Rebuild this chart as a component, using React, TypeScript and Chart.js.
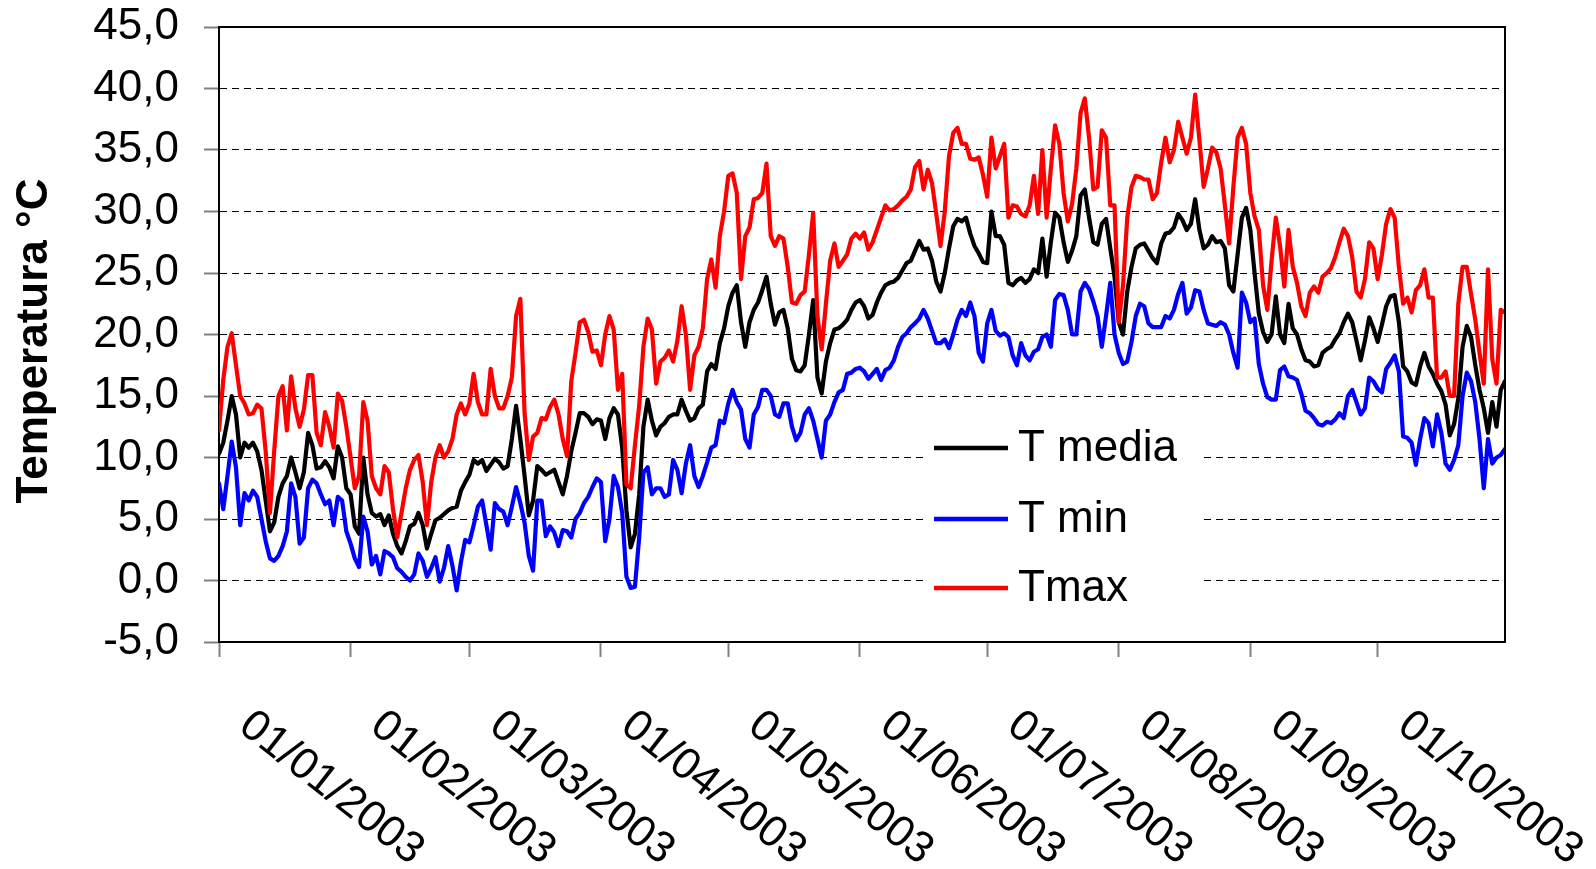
import React, { useEffect, useRef } from 'react';
import { Chart, registerables } from 'chart.js';

Chart.register(...registerables);

// ---- Data (daily values, 01/01/2003 .. 31/10/2003) ----
const monthStarts = [0, 31, 59, 90, 120, 151, 181, 212, 243, 273];
const monthLabels = [
  '01/01/2003', '01/02/2003', '01/03/2003', '01/04/2003', '01/05/2003',
  '01/06/2003', '01/07/2003', '01/08/2003', '01/09/2003', '01/10/2003',
];
const yTicks = [-5, 0, 5, 10, 15, 20, 25, 30, 35, 40, 45];
const seriesNames = ['T media', 'T min', 'Tmax'];
const yTitle = 'Temperatura °C';

const tMedia = [
  // Jan
  10.3, 11.2, 13.0, 15.0, 13.5, 10.0, 11.2, 10.8, 11.2, 10.5, 9.0, 6.5, 4.0, 4.7, 6.8, 7.9, 8.5, 10.0, 8.8, 7.5, 8.8, 12.0, 11.0, 9.1, 9.2, 9.7, 9.2, 8.3, 10.9, 10.0, 7.5,
  // Feb
  7.0, 4.4, 3.8, 10.0, 7.0, 5.5, 5.2, 5.4, 4.5, 5.3, 3.8, 2.8, 2.2, 3.2, 4.4, 4.6, 5.5, 4.5, 2.6, 3.8, 4.9, 5.1, 5.4, 5.7, 5.9, 6.0, 7.3, 8.0,
  // Mar
  8.6, 9.8, 9.5, 9.8, 8.9, 9.4, 9.9, 9.6, 9.1, 9.3, 11.5, 14.2, 11.5, 8.5, 5.3, 6.5, 9.3, 9.0, 8.6, 8.8, 9.0, 8.0, 7.0, 8.5, 10.5, 12.0, 13.6, 13.6, 13.3, 12.7, 13.1,
  // Apr
  13.0, 11.5, 13.2, 14.0, 13.5, 10.8, 5.7, 2.7, 3.8, 7.0, 12.5, 14.7, 13.0, 11.8, 12.5, 12.8, 13.3, 13.5, 13.5, 14.7, 13.8, 13.0, 13.2, 14.0, 14.3, 17.0, 17.6, 17.2, 19.3, 20.5,
  // May
  22.3, 23.4, 24.0, 21.0, 19.0, 21.0, 22.0, 22.6, 23.6, 24.7, 22.5, 20.8, 21.8, 22.0, 20.5, 18.0, 17.1, 17.0, 17.5, 20.0, 22.8, 16.5, 15.2, 17.8, 19.3, 20.4, 20.5, 20.8, 21.2, 22.0, 22.6,
  // Jun
  22.8, 22.3, 21.3, 21.6, 22.6, 23.4, 24.0, 24.2, 24.3, 24.6, 25.2, 25.8, 26.0, 26.8, 27.6, 26.9, 27.0, 26.0, 24.3, 23.5, 25.0, 27.0, 28.8, 29.4, 29.2, 29.5, 28.2, 27.2, 26.6, 25.9,
  // Jul
  25.8, 30.0, 28.0, 28.0, 27.3, 24.2, 24.0, 24.4, 24.6, 24.2, 24.5, 25.3, 25.0, 27.8, 24.7, 27.5, 29.9, 29.5, 27.5, 25.9, 26.8, 28.0, 31.3, 31.8, 29.5, 27.5, 27.3, 29.0, 29.4, 27.0, 24.7,
  // Aug
  21.0, 20.0, 23.5, 25.5, 27.0, 27.3, 27.4, 26.8, 26.2, 25.8, 27.4, 28.2, 28.3, 28.7, 29.8, 29.3, 28.5, 29.0, 31.0, 28.5, 27.0, 27.3, 28.0, 27.5, 27.6, 27.0, 24.0, 23.5, 26.5, 29.5, 30.3,
  // Sep
  28.5, 25.0, 21.7, 20.2, 19.4, 20.0, 23.1, 20.0, 19.3, 22.5, 20.5, 20.0, 18.8, 17.9, 17.8, 17.4, 17.5, 18.5, 18.8, 19.0, 19.6, 20.1, 21.0, 21.7, 21.0, 19.5, 17.9, 19.5, 21.4, 20.5,
  // Oct
  19.4, 20.8, 22.3, 23.1, 23.2, 21.0, 17.4, 17.0, 16.1, 15.9, 17.4, 18.5, 17.4, 16.8, 16.0, 15.4, 14.3, 11.8, 12.7, 14.8, 19.0, 20.7, 19.8, 17.5, 15.5, 14.0, 12.0, 14.5, 12.5, 15.5, 16.2,
];

const tMin = [
  // Jan
  7.9, 5.8, 8.5, 11.3, 9.2, 4.5, 7.1, 6.5, 7.3, 6.8, 5.0, 3.2, 1.8, 1.6, 2.0, 2.8, 4.0, 7.9, 6.8, 3.0, 3.5, 7.5, 8.2, 7.9, 7.0, 6.2, 6.5, 4.5, 6.8, 6.5, 4.0,
  // Feb
  3.0, 1.8, 1.1, 5.2, 4.0, 1.3, 2.0, 0.5, 2.4, 2.2, 1.9, 1.0, 0.7, 0.3, 0.0, 0.5, 2.2, 1.6, 0.3, 1.0, 1.9, -0.1, 1.0, 2.8, 1.2, -0.8, 1.5, 3.3,
  // Mar
  3.1, 4.5, 6.0, 6.5, 4.5, 2.5, 6.3, 5.8, 5.6, 4.5, 6.0, 7.6, 6.3, 4.7, 2.0, 0.8, 6.5, 6.5, 3.6, 4.4, 3.9, 2.8, 4.1, 4.0, 3.5, 5.0, 5.5, 6.3, 6.8, 7.6, 8.3,
  // Apr
  8.0, 3.2, 5.0, 8.5, 7.6, 5.5, 0.3, -0.6, -0.5, 3.5, 8.8, 9.2, 7.0, 7.5, 7.5, 6.8, 7.0, 9.8, 9.0, 7.1, 9.5, 11.0, 8.5, 7.6, 8.5, 9.6, 10.8, 11.0, 13.0, 12.8,
  // May
  14.4, 15.5, 14.5, 13.9, 11.5, 10.8, 13.5, 14.1, 15.5, 15.5, 15.0, 13.5, 13.3, 14.4, 14.4, 12.5, 11.4, 12.0, 13.5, 14.0, 13.0, 11.5, 10.0, 13.0, 13.5, 14.5, 15.3, 15.5, 16.8, 16.9, 17.2,
  // Jun
  17.3, 17.0, 16.4, 16.8, 17.2, 16.3, 17.1, 17.3, 17.9, 19.0, 19.8, 20.1, 20.6, 20.9, 21.3, 22.0, 21.3, 20.3, 19.3, 19.3, 19.6, 18.9, 20.0, 21.2, 22.0, 21.5, 22.6, 21.5, 18.5, 17.8,
  // Jul
  20.9, 22.0, 20.3, 19.9, 20.1, 19.8, 18.3, 17.5, 19.3, 18.3, 17.9, 18.6, 18.8, 19.8, 20.0, 19.0, 22.8, 23.3, 23.2, 22.0, 20.0, 20.0, 23.5, 24.2, 23.7, 22.7, 21.5, 19.0, 21.5, 24.2, 20.0,
  // Aug
  18.5, 17.6, 17.8, 19.4, 21.5, 22.5, 22.3, 20.9, 20.6, 20.6, 20.6, 21.5, 21.3, 22.0, 23.3, 24.2, 21.7, 22.2, 23.6, 23.5, 22.0, 20.9, 20.8, 20.7, 21.0, 20.8, 20.0, 18.5, 17.3, 23.4, 22.6,
  // Sep
  21.0, 21.3, 17.6, 16.0, 14.9, 14.7, 14.7, 17.1, 17.4, 16.6, 16.5, 16.3, 15.2, 13.8, 13.6, 13.2, 12.7, 12.6, 12.9, 12.8, 13.1, 13.6, 13.2, 15.0, 15.5, 14.5, 13.5, 14.0, 16.5, 16.2,
  // Oct
  15.6, 15.3, 17.2, 17.7, 18.3, 17.0, 11.7, 11.6, 11.2, 9.4, 11.5, 13.2, 12.8, 10.9, 13.5, 12.0, 9.5, 9.0, 9.8, 11.0, 15.0, 16.9, 16.2, 14.5, 11.5, 7.5, 11.5, 9.5, 10.0, 10.2, 10.7,
];

const tMax = [
  // Jan
  12.2, 16.3, 19.0, 20.1, 17.5, 15.0, 14.4, 13.5, 13.6, 14.3, 14.0, 10.5, 5.5, 10.5, 15.0, 15.8, 12.2, 16.6, 14.0, 12.5, 13.9, 16.7, 16.7, 12.0, 11.0, 13.7, 12.5, 10.8, 15.2, 14.6, 12.5,
  // Feb
  10.0, 7.5, 8.5, 14.5, 13.0, 8.5, 7.5, 7.0, 9.3, 8.8, 5.8, 3.5, 5.5, 7.5, 9.0, 9.8, 10.2, 8.0, 4.5, 8.0, 10.0, 11.0, 10.0, 10.5, 11.5, 13.5, 14.4, 13.5,
  // Mar
  14.4, 16.8, 14.5, 13.5, 13.5, 17.2, 15.0, 14.0, 14.0, 15.0, 16.5, 21.5, 22.9, 13.6, 9.8, 11.7, 12.0, 13.2, 13.1, 14.1, 14.7, 13.5, 11.5, 10.1, 16.2, 18.5, 21.0, 21.2, 20.2, 18.6, 18.7,
  // Apr
  17.5, 20.0, 21.5, 20.4, 15.5, 16.8, 7.8, 7.5, 11.0, 14.2, 19.0, 21.3, 20.4, 16.0, 17.8, 18.1, 18.7, 17.8, 19.5, 22.3, 20.0, 15.5, 18.3, 19.0, 20.5, 24.5, 26.1, 23.8, 28.0, 30.0,
  // May
  32.9, 33.1, 31.5, 24.5, 28.0, 28.7, 31.0, 31.1, 31.5, 33.9, 28.0, 27.2, 28.0, 27.8, 25.5, 22.6, 22.5, 23.2, 23.5, 26.5, 29.9, 21.5, 18.8, 22.5, 26.0, 27.4, 25.5, 26.0, 26.5, 27.8, 28.2,
  // Jun
  27.8, 28.3, 26.9, 27.5, 28.5, 29.5, 30.5, 30.1, 30.2, 30.5, 30.9, 31.2, 31.8, 33.6, 34.1, 31.8, 33.4, 32.3, 29.8, 27.2, 30.0, 34.5, 36.4, 36.8, 35.5, 35.5, 34.3, 34.2, 34.4, 33.0,
  // Jul
  31.2, 36.0, 33.5, 34.5, 35.5, 29.5, 30.5, 30.4, 29.8, 29.6, 30.5, 32.9, 29.8, 35.0, 29.5, 33.5, 37.0, 35.5, 31.5, 29.2, 30.6, 33.5, 38.0, 39.2, 36.0, 31.8, 32.0, 36.6, 36.0, 30.5, 30.5,
  // Aug
  21.0, 24.0, 29.5, 32.0, 32.9, 32.8, 32.6, 32.6, 31.0, 31.5, 34.0, 36.0, 34.0, 35.0, 37.3, 36.0, 34.7, 36.0, 39.5, 35.8, 32.0, 33.5, 35.2, 34.8, 33.5, 30.5, 27.4, 32.0, 36.0, 36.8, 35.5,
  // Sep
  31.5, 29.6, 28.5, 24.0, 22.0, 26.0, 29.5, 27.2, 23.9, 28.5, 25.5, 24.2, 22.3, 21.5, 23.4, 23.9, 23.4, 24.7, 25.0, 25.4, 26.3, 27.5, 28.6, 28.0, 26.3, 23.5, 23.0, 24.5, 27.5, 27.0,
  // Oct
  24.5, 26.5, 29.0, 30.2, 29.5, 25.5, 22.5, 23.0, 21.8, 23.6, 24.0, 25.3, 23.0, 23.0, 16.5, 16.5, 17.0, 15.0, 15.0, 22.5, 25.5, 25.5, 23.3, 21.2, 18.5, 16.0, 25.3, 18.0, 16.0, 22.0, 21.8,
];

const seriesColors = ['#000000', '#0000FF', '#FF0000'];
const FONT = '"Liberation Sans", Arial, Helvetica, sans-serif';

const toXY = (arr: number[]) => arr.map((v, i) => ({ x: i, y: v }));

const decorPlugin = {
  id: 'decor',
  afterDatasetsDraw(chart: any) {
    const { ctx, chartArea: ca } = chart;
    ctx.save();
    // top & right frame
    ctx.strokeStyle = '#000';
    ctx.lineWidth = 2;
    ctx.setLineDash([]);
    ctx.beginPath();
    ctx.moveTo(ca.left, ca.top);
    ctx.lineTo(ca.right, ca.top);
    ctx.lineTo(ca.right, ca.bottom);
    ctx.stroke();

    // legend (inside the plot, white box)
    const bx = 925, by = 415, bw = 275, bh = 200;
    ctx.fillStyle = '#fff';
    ctx.fillRect(bx, by, bw, bh);
    const rows = [448, 519, 588];
    ctx.font = `44px ${FONT}`;
    ctx.textBaseline = 'middle';
    ctx.textAlign = 'left';
    seriesNames.forEach((name, i) => {
      const y = rows[i];
      ctx.strokeStyle = seriesColors[i];
      ctx.lineWidth = 4.5;
      ctx.beginPath();
      ctx.moveTo(934, y);
      ctx.lineTo(1008, y);
      ctx.stroke();
      ctx.fillStyle = '#000';
      ctx.fillText(name, 1018, y + 1);
    });
    ctx.restore();
  },
  afterDraw(chart: any) {
    const { ctx } = chart;
    const xs = chart.scales.x;
    ctx.save();
    // x tick labels (rotated)
    ctx.font = `44px ${FONT}`;
    ctx.fillStyle = '#000';
    ctx.textAlign = 'left';
    ctx.textBaseline = 'alphabetic';
    const ang = (38 * Math.PI) / 180;
    monthStarts.forEach((d, i) => {
      const px = xs.getPixelForValue(d);
      ctx.save();
      ctx.translate(px + 18, 730);
      ctx.rotate(ang);
      ctx.fillText(monthLabels[i], 0, 0);
      ctx.restore();
    });
    // y axis title
    ctx.save();
    ctx.font = `bold 44px ${FONT}`;
    ctx.textAlign = 'center';
    ctx.textBaseline = 'middle';
    ctx.translate(35, 341);
    ctx.rotate(-Math.PI / 2);
    ctx.fillText(yTitle, 0, 0);
    ctx.restore();
    ctx.restore();
  },
};

export default function App() {
  const ref = useRef<HTMLCanvasElement | null>(null);

  useEffect(() => {
    if (!ref.current) return;
    const series = [tMedia, tMin, tMax];
    const chart = new Chart(ref.current, {
      type: 'line',
      data: {
        datasets: series.map((arr, i) => ({
          label: seriesNames[i],
          data: toXY(arr),
          borderColor: seriesColors[i],
          backgroundColor: seriesColors[i],
          borderWidth: 4.2,
          pointRadius: 0,
          tension: 0,
          fill: false,
          borderJoinStyle: 'round' as const,
          borderCapStyle: 'round' as const,
          order: 2 - i,
        })),
      },
      options: {
        animation: false,
        responsive: false,
        devicePixelRatio: 1,
        layout: { padding: { top: 27, right: 91, left: 0, bottom: 0 } },
        plugins: {
          legend: { display: false },
          tooltip: { enabled: false },
          title: { display: false },
        },
        scales: {
          x: {
            type: 'linear',
            min: 0,
            max: tMax.length - 1,
            afterBuildTicks: (s: any) => {
              s.ticks = monthStarts.map((v) => ({ value: v }));
            },
            afterFit: (s: any) => {
              s.height = 227;
              s.paddingLeft = 0;
              s.paddingRight = 0;
            },
            ticks: { display: false },
            grid: {
              display: true,
              drawOnChartArea: false,
              drawTicks: true,
              tickLength: 15,
              tickColor: '#808080',
              tickWidth: 2,
            },
            border: { display: true, color: '#000', width: 2 },
          },
          y: {
            type: 'linear',
            min: -5,
            max: 45,
            afterBuildTicks: (s: any) => {
              s.ticks = yTicks.map((v) => ({ value: v }));
            },
            afterFit: (s: any) => {
              s.width = 219;
              s.paddingTop = 0;
              s.paddingBottom = 0;
            },
            ticks: {
              padding: 25,
              color: '#000',
              font: { family: FONT, size: 44 },
              callback: (v: any) => Number(v).toFixed(1).replace('.', ','),
            },
            title: { display: false },
            grid: {
              display: true,
              drawOnChartArea: true,
              color: '#000',
              lineWidth: 1,
              drawTicks: true,
              tickLength: 15,
              tickColor: '#808080',
              tickWidth: 2,
              tickBorderDash: [],
            },
            border: { display: true, color: '#000', width: 2, dash: [7, 5] },
          },
        },
      },
      plugins: [decorPlugin],
    });
    return () => chart.destroy();
  }, []);

  return (
    <div style={{ position: 'absolute', left: 0, top: 0, width: 1596, height: 869, background: '#fff' }}>
      <canvas ref={ref} width={1596} height={869} style={{ display: 'block' }} />
    </div>
  );
}
